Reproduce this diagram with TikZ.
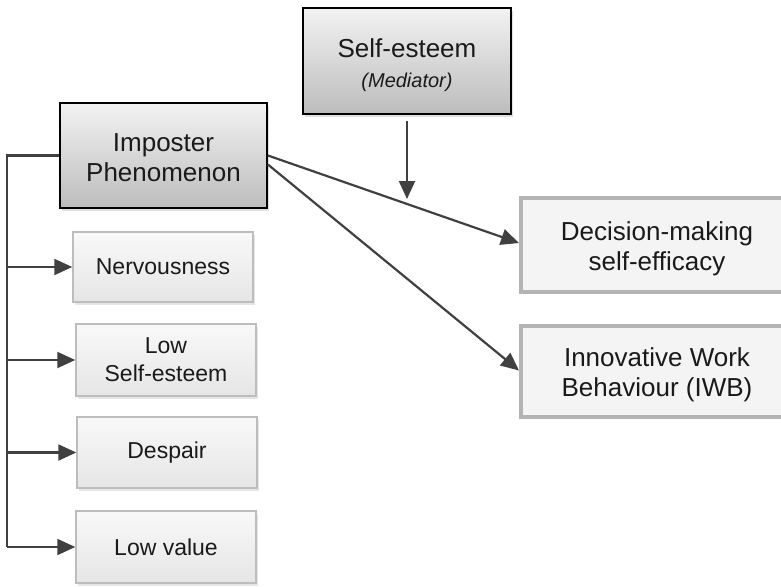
\documentclass[tikz,border=0pt]{standalone}
\usepackage{fontspec}
\setmainfont{Liberation Sans}
\usetikzlibrary{arrows.meta,shadows}
\definecolor{txt}{HTML}{1A1A1A}
\definecolor{conn}{HTML}{404040}
\definecolor{smallborder}{HTML}{BDBDBD}
\definecolor{rightborder}{HTML}{B4B4B4}
\newcommand{\topstrut}[1]{\rule{0pt}{#1}}
\tikzset{
  mainbox/.style={draw=black, line width=1.8pt, top color=gray!10, bottom color=gray!52,
    minimum width=207pt, minimum height=105pt, align=center, text=txt, inner sep=0pt,
    drop shadow={opacity=0.25, shadow xshift=2pt, shadow yshift=-3pt},
    font=\fontsize{26}{30}\selectfont},
  smallbox/.style={draw=smallborder, line width=1.5pt, top color=gray!5, bottom color=gray!20,
    minimum width=180pt, minimum height=71pt, align=center, text=txt, inner sep=0pt,
    drop shadow={opacity=0.2, shadow xshift=2pt, shadow yshift=-3pt},
    font=\fontsize{23}{28}\selectfont},
  outbox/.style={draw=rightborder, line width=4pt, fill=gray!9,
    minimum width=272pt, minimum height=92pt, align=center, text=txt, inner sep=0pt,
    font=\fontsize{26}{30}\selectfont},
  conline/.style={draw=conn, line width=2.2pt},
  conarrow/.style={conline, -{Triangle[length=18pt,width=16pt]}},
}
\begin{document}
\begin{tikzpicture}[x=1pt,y=-1pt]
\useasboundingbox (0,0) rectangle (781,586);

\node[mainbox, minimum width=208pt, minimum height=106pt] (se) at (407,61)
  {\topstrut{27pt}Self-esteem\\[0pt]{\fontsize{20}{22}\selectfont\itshape (Mediator)}};
\node[mainbox] (imp) at (163.5,155.5) {\topstrut{23pt}Imposter\\Phenomenon};

\node[smallbox, minimum height=70pt] (nerv) at (163,267) {Nervousness};
\node[smallbox, minimum height=72pt] (lse) at (166,360) {Low\\Self-esteem};
\node[smallbox] (desp) at (167,452.5) {Despair};
\node[smallbox, minimum height=72pt] (lval) at (166,547) {Low value};

\node[outbox, minimum height=94pt] (dec) at (657,245) {\topstrut{27pt}Decision-making\\self-efficacy};
\node[outbox, minimum height=91pt] (inn) at (657,371.5) {\topstrut{25pt}Innovative Work\\Behaviour (IWB)};

% left bus
\coordinate (bt) at (7,155.5);
\coordinate (b1) at (7,267);
\coordinate (b2) at (7,360);
\coordinate (b3) at (7,452.5);
\coordinate (b4) at (7,547);
\draw[conline] (imp.west) -- (bt) -- (b4);
\draw[conarrow] (b1) -- (nerv.west);
\draw[conarrow] (b2) -- (lse.west);
\draw[conarrow] (b3) -- (desp.west);
\draw[conarrow] (b4) -- (lval.west);

% right arrows
\draw[conarrow] (imp.east) -- ([yshift=2pt]dec.west);
\draw[conarrow] ([yshift=-9pt]imp.east) -- ([yshift=1pt]inn.west);

% mediator arrow
\coordinate (medend) at (407,199);
\draw[conarrow, shorten <=6pt] (se.south) -- (medend);
\end{tikzpicture}
\end{document}
